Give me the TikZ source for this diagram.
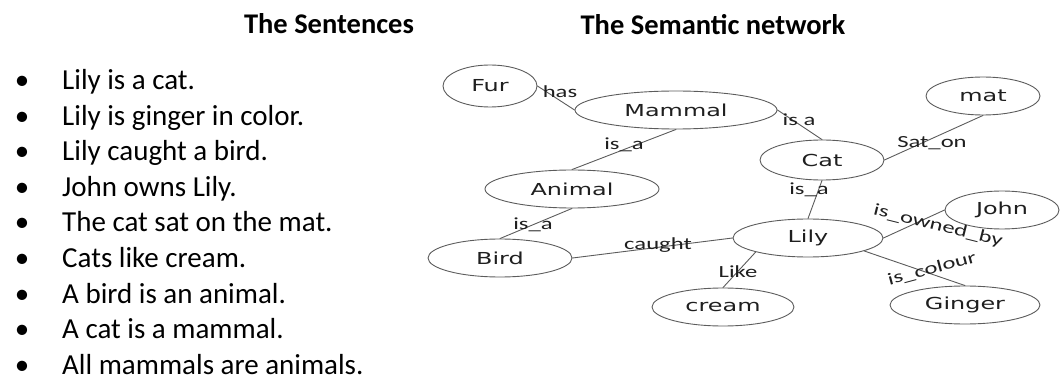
\documentclass[tikz,border=0pt]{standalone}
\usepackage{fontspec}
\setmainfont{Carlito}
\newfontfamily\conceptfont[FakeStretch=1.45]{DejaVu Sans}
\newfontfamily\relfont[FakeStretch=1.45]{Carlito}
\usetikzlibrary{shapes.geometric}

\tikzset{
  heading/.style={anchor=base, inner sep=0pt, font={\bfseries\fontsize{28.5pt}{32pt}\selectfont}},
  sentence/.style={anchor=base west, inner sep=0pt, font={\fontsize{29pt}{34pt}\selectfont}},
  dot/.style={anchor=base, inner sep=0pt, font={\fontsize{29pt}{34pt}\selectfont}},
  concept/.style={ellipse, draw=black!64, line width=0.9pt, inner sep=0pt, text=black!88,
    font={\conceptfont\fontsize{16.5pt}{18pt}\selectfont}},
  relation/.style={draw=black!64, line width=0.9pt},
  rel/.style={anchor=base, inner sep=0pt, text=black!88,
    font={\relfont\fontsize{17pt}{19pt}\selectfont}},
}

\begin{document}
\begin{tikzpicture}[x=1pt, y=-1pt, line cap=round, line join=round]
        % page frame
        \useasboundingbox (0,0) rectangle (1062,379);

        % headings
        \node[heading] (h1) at (329,34) {The Sentences};
        \node[heading] (h2) at (713,35) {The Semantic network};

        % sentences
        \foreach \s [count=\i] in {Lily is a cat., Lily is ginger in color., Lily caught a bird.,
            John owns Lily., The cat sat on the mat., Cats like cream., A bird is an animal.,
            A cat is a mammal., All mammals are animals.}
        {
            \node[dot] (b\i) at (22,{54.5+35.5*\i}) {\textbullet};
            \node[sentence] (s\i) at (62,{54.5+35.5*\i}) {\s};
        }

        % concepts
        \node[concept, minimum width=94,  minimum height=42] (fur)    at (490,86)  {Fur};
        \node[concept, minimum width=202, minimum height=38] (mammal) at (676,110) {Mammal};
        \node[concept, minimum width=174, minimum height=38] (animal) at (572,189) {Animal};
        \node[concept, minimum width=144, minimum height=38] (bird)   at (500,258) {Bird};
        \node[concept, minimum width=124, minimum height=40] (cat)    at (822,160) {Cat};
        \node[concept, minimum width=114, minimum height=38] (mat)    at (983,96)  {mat};
        \node[concept, minimum width=150, minimum height=38] (lily)   at (808,238) {Lily};
        \node[concept, minimum width=114, minimum height=38] (john)   at (1002,210) {John};
        \node[concept, minimum width=150, minimum height=38] (ginger) at (965,305) {Ginger};
        \node[concept, minimum width=142, minimum height=38] (cream)  at (723,307) {cream};

        % relations
        \draw[relation] (fur.east) -- (mammal.west);
        \draw[relation] (mammal.south) -- (animal.north);
        \draw[relation] (mammal.east) -- (cat.north);
        \draw[relation] (cat.east) -- (mat.south);
        \draw[relation] (animal.south) -- (bird.north);
        \draw[relation] (cat.south) -- (lily.north);
        \draw[relation] (bird.east) -- (lily.west);
        \draw[relation] (lily.195) -- (cream.north);
        \draw[relation] (lily.east) -- (john.west);
        \draw[relation] (lily.347) -- (ginger.north);

        % relation labels
        \node[rel] (l1) at (560,98)  {has};
        \node[rel] (l2) at (624,150) {is\_a};
        \node[rel] (l3) at (799,126) {is a};
        \node[rel] (l4) at (932,148) {Sat\_on};
        \node[rel] (l5) at (533,230) {is\_a};
        \node[rel] (l6) at (658,250) {caught};
        \node[rel] (l7) at (809,195) {is\_a};
        \node[rel] (l8) at (738,277) {Like};
        \node[rel, anchor=center, rotate=-14] (l9)  at (938,226) {is\_owned\_by};
        \node[rel, anchor=center, rotate=15]  (l10) at (932,269) {is\_colour};
\end{tikzpicture}
\end{document}
